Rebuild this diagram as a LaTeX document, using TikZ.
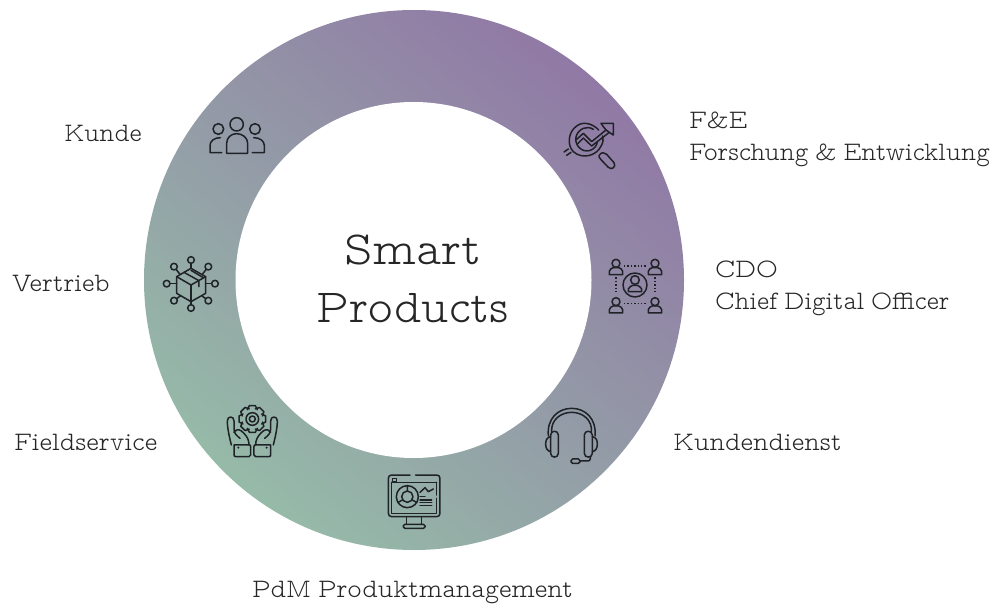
\documentclass[tikz,border=0pt]{standalone}
\usepackage{fontspec}
\setmainfont[WordSpace=0.75]{Latin Modern Mono Prop Light}
\usepackage{graphicx}
\definecolor{ink}{HTML}{262626}
\definecolor{iconink}{HTML}{1F2226}
\definecolor{ringgreen}{HTML}{96BDA8}
\definecolor{ringpurple}{HTML}{9070A5}
\pgfdeclarehorizontalshading{ringshade}{100bp}{color(0bp)=(ringgreen); color(23bp)=(ringgreen); color(82bp)=(ringpurple); color(100bp)=(ringpurple)}
\tikzset{
  x=1pt,y=-1pt,
  lbl/.style={anchor=base west,inner sep=0pt,outer sep=0pt,text=ink,font=\fontsize{26.65}{30}\selectfont},
  big/.style={anchor=base,inner sep=0pt,outer sep=0pt,text=ink,font=\fontsize{47.5}{50}\selectfont},
  ic/.style={draw=iconink,line width=1.5pt,line cap=round,line join=round},
  dots/.style={draw=iconink,line width=1.3pt,line cap=butt,dash pattern=on 1.4pt off 2pt},
}
\begin{document}
\begin{tikzpicture}
\useasboundingbox (0,0) rectangle (998,604);
\fill[white] (0,0) rectangle (998,604);
\path[shading=ringshade,shading angle=50] (414,280) circle (270);
\fill[white] (413.5,280) circle (178);

% labels
\node[big] (smart) at (413,264) {\scalebox{1.03}[1]{Smart}};
\node[big] (products) at (413,322) {\scalebox{0.985}[1]{Products}};
\node[lbl] (kunde) at (64,142) {\scalebox{0.97}[1]{Kunde}};
\node[lbl] (fe) at (689,129) {F\&E};
\node[lbl] (fe2) at (689,161) {\scalebox{0.972}[1]{Forschung \& Entwicklung}};
\node[lbl] (cdo) at (715,277) {CDO};
\node[lbl] (cdo2) at (715,309) {\scalebox{0.968}[1]{Chief Digital Officer}};
\node[lbl] (kd) at (673,450) {Kundendienst};
\node[lbl] (ver) at (12,291) {\scalebox{0.99}[1]{Vertrieb}};
\node[lbl] (fs) at (14,450) {Fieldservice};
\node[lbl] (pdm) at (252,597) {PdM Produktmanagement};

% Kunde icon
\begin{scope}[shift={(195,105)},x=0.3333pt,y=-0.3333pt]
\draw[ic] (125,58) circle (20);
\draw[ic] (95,145) -- (95,115) .. controls (95,98) and (108,86) .. (125,86) .. controls (142,86) and (158,98) .. (158,115) -- (158,145) -- cycle;
\draw[ic] (70,72) circle (16);
\draw[ic] (180,72) circle (16);
\draw[ic] (80,143) -- (45,143) -- (45,122) .. controls (45,108) and (58,98) .. (76,98);
\draw[ic] (172,143) -- (208,143) -- (208,122) .. controls (208,108) and (195,98) .. (176,98);
\end{scope}

% F&E icon
\begin{scope}[shift={(540,100)},x=0.3333pt,y=-0.3333pt]
\draw[ic] (176,90) .. controls (160,72) and (130,62) .. (110,78) .. controls (85,95) and (80,135) .. (100,155) .. controls (125,178) and (170,170) .. (185,135) .. controls (190,125) and (190,118) .. (188,108);
\draw[ic] (115,140) .. controls (100,120) and (108,95) .. (130,85) .. controls (140,81) and (150,82) .. (160,88);
\draw[ic] (172,125) .. controls (170,150) and (135,165) .. (115,140);
\draw[ic] (110,118) -- (130,100) -- (155,125) -- (198,90);
\draw[ic] (112,132) -- (130,114) -- (155,138) -- (208,97);
\draw[ic] (183,70) -- (220,70) -- (220,105) -- (208,97) -- (198,90) -- (190,80) -- cycle;
\draw[ic] (72,156) -- (85,147);
\draw[ic] (80,166) -- (93,157);
\draw[ic] (178,165) .. controls (185,155) and (195,158) .. (200,163) -- (222,188) .. controls (230,200) and (215,212) .. (205,202) -- (182,178) .. controls (176,172) and (176,168) .. (178,165);
\end{scope}

% CDO icon
\begin{scope}[shift={(590,240)},x=0.3333pt,y=-0.3333pt]
\foreach \px/\py in {78/80,195/80,78/195,195/195}{
 \draw[ic] (\px,\py-10) circle (12);
 \draw[ic] (\px-20,\py+24) -- (\px-20,\py+14) .. controls (\px-20,\py+6) and (\px-12,\py+6) .. (\px-8,\py+3) -- (\px+8,\py+3) .. controls (\px+12,\py+6) and (\px+20,\py+6) .. (\px+20,\py+14) -- (\px+20,\py+24) -- cycle;
}
\draw[ic] (135,135) circle (36);
\draw[ic] (135,120) circle (13);
\draw[ic] (115,155) -- (115,147) .. controls (115,140) and (125,140) .. (128,136) -- (142,136) .. controls (145,140) and (155,140) .. (155,147) -- (155,155) -- cycle;
\draw[dots] (102,78) -- (170,78);
\draw[dots] (102,190) -- (170,190);
\draw[dots] (78,112) -- (78,160);
\draw[dots] (195,112) -- (195,160);
\end{scope}

% Vertrieb icon
\begin{scope}[shift={(150,240)},x=0.3333pt,y=-0.3333pt]
\draw[ic] (123,85) -- (167,110) -- (167,160) -- (123,185) -- (80,160) -- (80,110) -- cycle;
\draw[ic] (80,110) -- (123,135) -- (167,110);
\draw[ic] (123,135) -- (123,185);
\draw[ic] (102,97) -- (147,122) -- (147,140);
\draw[ic] (123,91) -- (160,113);
\foreach \cx/\cy/\ex/\ey in {123/60/123/85,72/80/90/103,175/80/157/103,50/131/80/131,195/131/167/131,72/182/92/167,175/182/155/167,123/204/123/185}{
 \draw[ic] (\cx,\cy) circle (10);
 \draw[ic,shorten <=3.3pt] (\cx,\cy) -- (\ex,\ey);
}
\end{scope}

% Fieldservice icon
\begin{scope}[shift={(210,395)},x=0.3333pt,y=-0.3333pt]
\draw[ic] (127,72) circle (19);
\draw[ic] (127,72) circle (9);
\foreach \a in {0,45,...,315}{
 \draw[ic,shift={(127,72)},rotate=\a] (-15,-28) -- (-9,-40) -- (9,-40) -- (15,-28);
}
\draw[ic] (72,150) -- (120,150) .. controls (122,150) and (122,152) .. (122,154) -- (122,180) .. controls (122,184) and (120,185) .. (117,185) -- (78,185) .. controls (74,185) and (72,183) .. (72,180) -- cycle;
\draw[ic] (182,150) -- (134,150) .. controls (132,150) and (132,152) .. (132,154) -- (132,180) .. controls (132,184) and (134,185) .. (137,185) -- (176,185) .. controls (180,185) and (182,183) .. (182,180) -- cycle;
\draw[ic] (64,150) .. controls (58,125) and (52,100) .. (52,78) .. controls (52,62) and (72,62) .. (72,78) -- (72,100) .. controls (72,115) and (78,120) .. (90,130);
\draw[ic] (72,112) .. controls (82,98) and (92,105) .. (100,113) .. controls (112,125) and (117,135) .. (117,150);
\draw[ic] (190,150) .. controls (196,125) and (202,100) .. (202,78) .. controls (202,62) and (182,62) .. (182,78) -- (182,100) .. controls (182,115) and (176,120) .. (164,130);
\draw[ic] (182,112) .. controls (172,98) and (162,105) .. (154,113) .. controls (142,125) and (137,135) .. (137,150);
\fill[iconink] (85,158) circle (1.1pt) (170,158) circle (1.1pt);
\end{scope}

% PdM icon
\begin{scope}[shift={(375,465)},x=0.3333pt,y=-0.3333pt]
\draw[ic] (105,30) -- (50,30) .. controls (44,30) and (40,34) .. (40,40) -- (40,145) .. controls (40,151) and (44,155) .. (50,155) -- (185,155) .. controls (191,155) and (195,151) .. (195,145) -- (195,40) .. controls (195,34) and (191,30) .. (185,30) -- (122,30);
\draw[ic] (52,52) -- (185,52);
\draw[ic] (52,40) rectangle (64,50);
\draw[ic] (50,52) -- (50,145) -- (185,145) -- (185,100);
\draw[ic] (185,90) -- (185,52);
\draw[ic] (97,95) circle (33);
\draw[ic] (97,95) circle (17);
\draw[ic] (97,62) -- (97,78) (112,105) -- (126,113) (82,105) -- (68,113);
\draw[ic] (135,82) -- (150,68) -- (160,80) -- (175,72);
\draw[ic] (135,95) -- (150,95);
\draw[ic] (135,105) -- (170,105);
\draw[ic] (135,113) -- (170,113);
\draw[ic] (135,122) -- (170,122);
\draw[ic] (95,155) -- (95,178) (140,155) -- (140,178);
\draw[ic,rounded corners=1.5pt] (85,178) rectangle (150,190);
\end{scope}

% Kundendienst icon
\begin{scope}[shift={(530,400)},x=0.3333pt,y=-0.3333pt]
\draw[ic] (55,108) .. controls (50,55) and (85,25) .. (125,25) .. controls (165,25) and (200,55) .. (195,108);
\draw[ic] (65,96) .. controls (62,60) and (92,37) .. (125,37) .. controls (158,37) and (188,60) .. (184,96);
\draw[ic] (62,105) .. controls (62,90) and (85,90) .. (85,105) -- (85,160) .. controls (85,175) and (62,175) .. (62,160) -- cycle;
\draw[ic] (163,105) .. controls (163,90) and (187,90) .. (187,105) -- (187,160) .. controls (187,175) and (163,175) .. (163,160) -- cycle;
\draw[ic] (62,110) .. controls (50,112) and (47,122) .. (47,132) .. controls (47,145) and (52,153) .. (62,155);
\draw[ic] (187,110) .. controls (199,112) and (202,122) .. (202,132) .. controls (202,145) and (197,153) .. (187,155);
\draw[ic] (181,170) -- (181,176) .. controls (181,182) and (177,183) .. (172,183) -- (150,183);
\draw[ic,rounded corners=1.6pt] (123,177) rectangle (150,190);
\end{scope}
\end{tikzpicture}
\end{document}
